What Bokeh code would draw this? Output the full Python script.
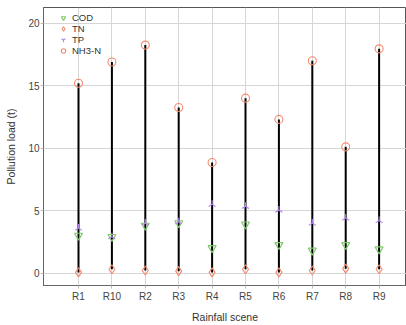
import numpy as np
from bokeh.plotting import figure
from bokeh.models import Range1d, FixedTicker, Legend, LegendItem
from bokeh.embed import file_html
from bokeh.resources import INLINE

scenes = ["R1", "R10", "R2", "R3", "R4", "R5", "R6", "R7", "R8", "R9"]
cod = [3.0, 2.9, 3.8, 4.0, 2.0, 3.9, 2.25, 1.8, 2.25, 1.9]
tn = [0.05, 0.3, 0.2, 0.15, 0.05, 0.3, 0.05, 0.2, 0.35, 0.3]
tp = [3.6, 2.9, 4.0, 4.1, 5.5, 5.35, 5.05, 4.0, 4.4, 4.2]
nh3n = [15.2, 16.9, 18.25, 13.25, 8.85, 14.0, 12.3, 17.0, 10.1, 17.95]
y_ticks = [0, 5, 10, 15, 20]

xs = list(range(1, len(scenes) + 1))
lo = [min(a, b, c, d) for a, b, c, d in zip(cod, tn, tp, nh3n)]
hi = [max(a, b, c, d) for a, b, c, d in zip(cod, tn, tp, nh3n)]

p = figure(width=406, height=325, output_backend="svg", toolbar_location=None,
           x_range=Range1d(-0.048, 10.82), y_range=Range1d(-1.0, 21.26),
           min_border_left=43, min_border_right=0, min_border_top=7, min_border_bottom=39)
p.background_fill_color = "white"
p.border_fill_color = "white"
p.outline_line_color = "#555555"
p.outline_line_width = 1

p.segment(xs, lo, xs, hi, line_color="black", line_width=2)

green = "#7CCB6B"
orange = "#F4896B"
purple = "#B583F2"

r_cod = p.scatter(xs, cod, marker="inverted_triangle", size=8, fill_color=None,
                  line_color=green, line_width=1.2)
r_tn = p.scatter(xs, tn, marker="diamond", size=9, fill_color=None,
                 line_color=orange, line_width=1.1)
r_tp = p.scatter(xs, tp, marker="y", angle=np.pi, size=8, fill_color=None,
                 line_color=purple, line_width=1.1)
r_nh = p.scatter(xs, nh3n, marker="circle", size=8, fill_color=None,
                 line_color=orange, line_width=1.1)

legend = Legend(items=[LegendItem(label="COD", renderers=[r_cod]),
                       LegendItem(label="TN", renderers=[r_tn]),
                       LegendItem(label="TP", renderers=[r_tp]),
                       LegendItem(label="NH3-N", renderers=[r_nh])],
                location=(14, 229), padding=0, margin=0, spacing=0,
                glyph_width=12, glyph_height=11, label_height=11,
                label_standoff=3, label_text_font="Liberation Sans",
                label_text_font_size="9.5px", label_text_color="#333333",
                background_fill_alpha=0, border_line_alpha=0)
p.add_layout(legend)

p.xaxis.ticker = FixedTicker(ticks=xs)
p.xaxis.major_label_overrides = {x: s for x, s in zip(xs, scenes)}
p.yaxis.ticker = FixedTicker(ticks=y_ticks)
p.xgrid.ticker = FixedTicker(ticks=xs)

for ax in (p.xaxis[0], p.yaxis[0]):
    ax.axis_line_color = "#666666"
    ax.major_tick_line_color = "#BBBBBB"
    ax.major_tick_out = 3
    ax.major_tick_in = 0
    ax.minor_tick_line_color = None
    ax.major_label_text_font = "Liberation Sans"
    ax.major_label_text_font_size = "10px"
    ax.major_label_text_color = "#444444"
    ax.major_label_text_line_height = 1.0
    ax.axis_label_text_font = "Liberation Sans"
    ax.axis_label_text_font_size = "10.5px"
    ax.axis_label_text_font_style = "normal"
    ax.axis_label_text_color = "#333333"
    ax.axis_label_text_line_height = 1.0

p.xaxis.axis_label = "Rainfall scene"
p.yaxis.axis_label = "Pollution load (t)"
p.xaxis.major_label_standoff = 2
p.xaxis.axis_label_standoff = 6
p.yaxis.major_label_standoff = 1
p.yaxis.axis_label_standoff = 8

p.xgrid.grid_line_color = "#D6D6D6"
p.ygrid.grid_line_color = "#D6D6D6"
p.xgrid.grid_line_width = 1
p.ygrid.grid_line_width = 1

open("out.html", "w").write(file_html(p, INLINE))
